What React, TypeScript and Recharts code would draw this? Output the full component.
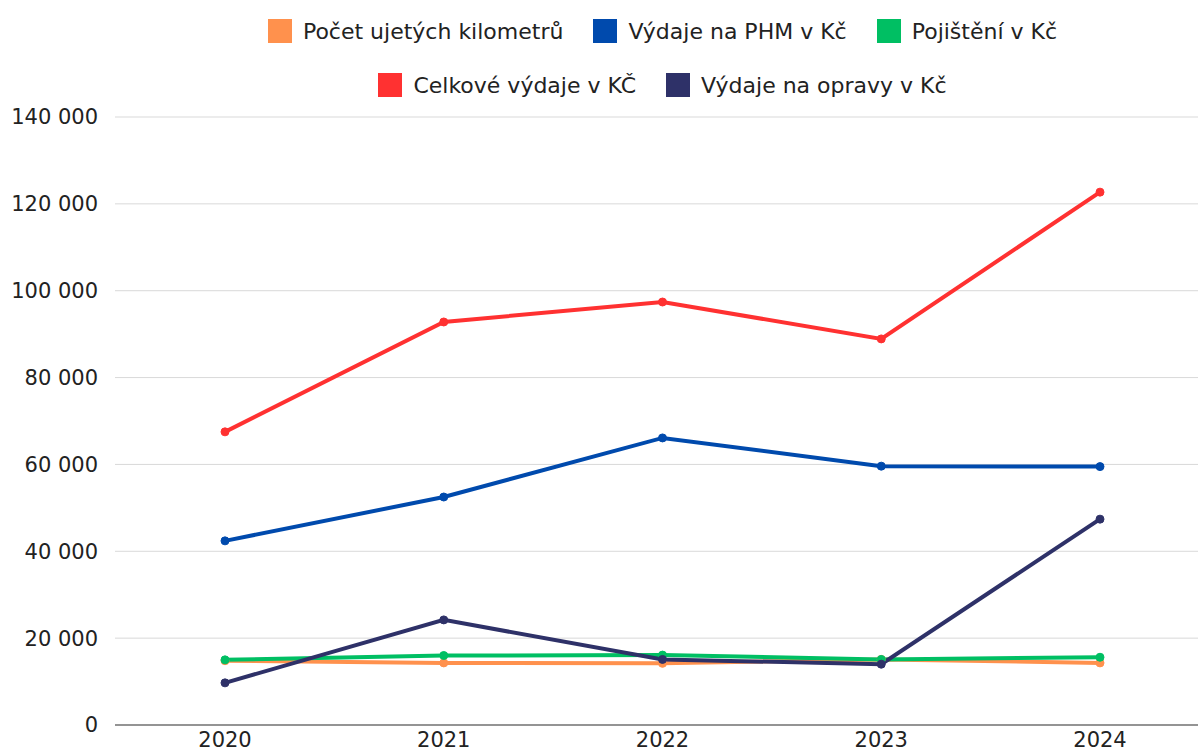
import React from 'react';
import { LineChart, Line, XAxis, YAxis, CartesianGrid, Legend } from 'recharts';

const years = ['2020', '2021', '2022', '2023', '2024'];
const kilometry = [14800, 14300, 14200, 15100, 14300];
const vydajePhm = [42400, 52500, 66100, 59600, 59500];
const pojisteni = [15000, 16000, 16100, 15100, 15600];
const celkoveVydaje = [67500, 92800, 97400, 88900, 122700];
const vydajeOpravy = [9700, 24200, 15100, 14000, 47400];
const yTicks = [0, 20000, 40000, 60000, 80000, 100000, 120000, 140000];

const series = [
  { key: 'km', name: 'Počet ujetých kilometrů', color: '#FF914D', values: kilometry },
  { key: 'phm', name: 'Výdaje na PHM v Kč', color: '#004AAD', values: vydajePhm },
  { key: 'poj', name: 'Pojištění v Kč', color: '#00BF63', values: pojisteni },
  { key: 'celk', name: 'Celkové výdaje v KČ', color: '#FF3131', values: celkoveVydaje },
  { key: 'opr', name: 'Výdaje na opravy v Kč', color: '#2E3168', values: vydajeOpravy },
];

const data = years.map((year, i) => {
  const row: Record<string, string | number> = { year };
  series.forEach((s) => {
    row[s.key] = s.values[i];
  });
  return row;
});

const FONT = "'DejaVu Sans', sans-serif";
const formatNumber = (v: number) => String(v).replace(/\B(?=(\d{3})+(?!\d))/g, ' ');

const LegendItem = ({ name, color }: { name: string; color: string }) => (
  <div style={{ display: 'flex', alignItems: 'center', margin: '0 15px' }}>
    <div style={{ width: 24, height: 24, background: color, marginRight: 11 }} />
    <span style={{ fontSize: 22, color: '#222', whiteSpace: 'nowrap' }}>{name}</span>
  </div>
);

const TwoRowLegend = () => (
  <div style={{ height: 110, marginLeft: 115, width: 1095, fontFamily: FONT }}>
    <div style={{ display: 'flex', justifyContent: 'center', height: 54, paddingTop: 4, alignItems: 'center' }}>
      {series.slice(0, 3).map((s) => (
        <LegendItem key={s.key} name={s.name} color={s.color} />
      ))}
    </div>
    <div style={{ display: 'flex', justifyContent: 'center', height: 54, alignItems: 'center' }}>
      {series.slice(3).map((s) => (
        <LegendItem key={s.key} name={s.name} color={s.color} />
      ))}
    </div>
  </div>
);

const App: React.FC = () => {
  return (
    <div style={{ position: 'absolute', left: 0, top: 0, width: 1198, height: 755, overflow: 'hidden', background: '#fff' }}>
      <LineChart
        width={1215}
        height={775}
        data={data}
        margin={{ top: 7, right: 5, left: 0, bottom: 0 }}
        style={{ fontFamily: FONT }}
      >
        <CartesianGrid vertical={false} stroke="#d9d9d9" strokeWidth={1} />
        <XAxis
          dataKey="year"
          height={50}
          padding={{ left: 110, right: 110 }}
          tickLine={false}
          tickSize={0}
          tickMargin={7}
          axisLine={{ stroke: '#777', strokeWidth: 1.5 }}
          tick={{ fontSize: 21, fill: '#222' }}
        />
        <YAxis
          width={115}
          domain={[0, 140000]}
          ticks={yTicks}
          axisLine={false}
          tickLine={false}
          tickSize={0}
          tickMargin={17}
          tickFormatter={formatNumber}
          tick={{ fontSize: 21, fill: '#222' }}
        />
        <Legend verticalAlign="top" content={<TwoRowLegend />} wrapperStyle={{ left: 0, top: 0, width: 1215 }} />
        {series.map((s) => (
          <Line
            key={s.key}
            dataKey={s.key}
            name={s.name}
            stroke={s.color}
            strokeWidth={4}
            dot={{ r: 4, fill: s.color, stroke: s.color, strokeWidth: 1 }}
            isAnimationActive={false}
          />
        ))}
      </LineChart>
    </div>
  );
};

export default App;
